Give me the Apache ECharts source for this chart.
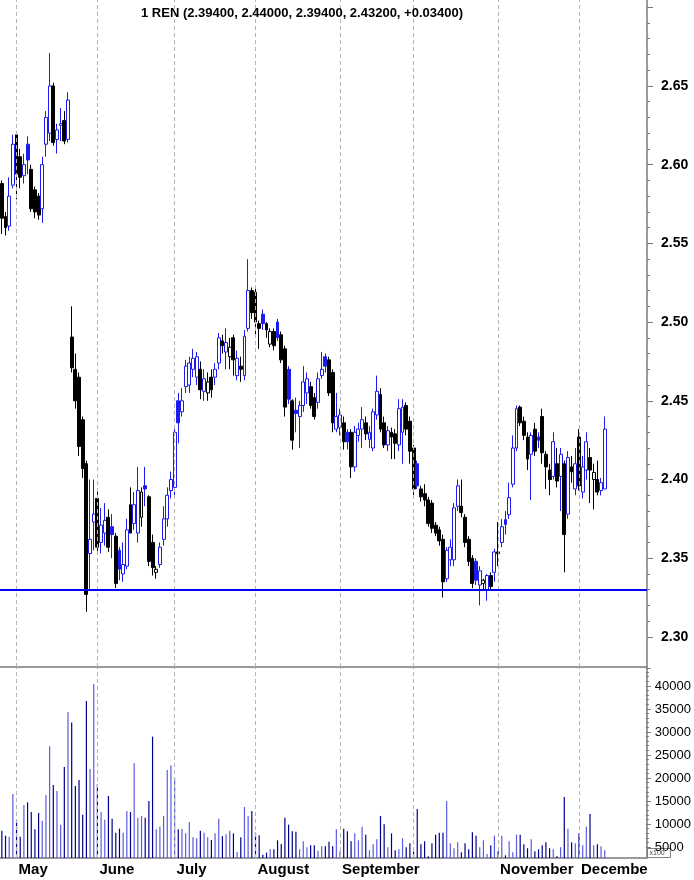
<!DOCTYPE html>
<html><head><meta charset="utf-8">
<script src="https://cdn.jsdelivr.net/npm/echarts@6/dist/echarts.min.js"></script>
<style>html,body{margin:0;padding:0;background:#fff}#c{width:694px;height:880px}</style>
</head><body><div id="c"></div>
<script>
// ---- data (2018 trading days, MM-DD) ----
const dates = ['04-25','04-26','04-27','04-30',
'05-02','05-03','05-04','05-07','05-08','05-09','05-10','05-11','05-14','05-15','05-16','05-17','05-18','05-21','05-22','05-23','05-24','05-25','05-28','05-29','05-30','05-31',
'06-01','06-04','06-05','06-06','06-07','06-08','06-11','06-12','06-13','06-14','06-15','06-18','06-19','06-20','06-21','06-22','06-25','06-26','06-27','06-28','06-29',
'07-02','07-03','07-04','07-05','07-06','07-09','07-10','07-11','07-12','07-13','07-16','07-17','07-18','07-19','07-20','07-23','07-24','07-25','07-26','07-27','07-30','07-31',
'08-01','08-02','08-03','08-06','08-07','08-08','08-09','08-10','08-13','08-14','08-15','08-16','08-17','08-20','08-21','08-22','08-23','08-24','08-27','08-28','08-29','08-30','08-31',
'09-03','09-04','09-05','09-06','09-07','09-10','09-11','09-12','09-13','09-14','09-17','09-18','09-19','09-20','09-21','09-24','09-25','09-26','09-27','09-28',
'10-01','10-02','10-03','10-04','10-05','10-08','10-09','10-10','10-11','10-12','10-15','10-16','10-17','10-18','10-19','10-22','10-23','10-24','10-25','10-26','10-29','10-30','10-31',
'11-01','11-02','11-05','11-06','11-07','11-08','11-09','11-12','11-13','11-14','11-15','11-16','11-19','11-20','11-21','11-22','11-23','11-26','11-27','11-28','11-29','11-30',
'12-03','12-04','12-05','12-06','12-07','12-10','12-11','12-12'];
const futureDates = ['12-13','12-14','12-17','12-18','12-19','12-20','12-21','12-24','12-25','12-26','12-27'];

const opens = [2.588,2.567,2.561,2.587,2.619,2.605,2.593,2.613,2.597,2.584,2.580,2.572,2.613,2.620,2.650,2.616,2.625,2.628,2.616,
2.4905,2.470,2.465,2.438,2.410,2.353,2.373,2.388,2.360,2.366,2.376,2.370,2.364,2.355,2.340,2.345,2.384,2.372,2.366,2.376,2.396,
2.389,2.360,2.341,2.346,2.362,2.375,2.393,2.395,2.450,2.443,2.459,2.460,2.470,2.465,2.470,2.456,2.455,2.465,2.465,2.474,
2.488,2.481,2.478,2.490,2.466,2.472,2.466,2.496,2.520,2.519,2.499,2.505,2.499,2.486,2.494,2.500,2.492,2.483,2.470,2.450,
2.444,2.440,2.447,2.455,2.459,2.452,2.449,2.466,2.478,2.476,2.468,2.432,2.433,2.436,2.430,2.430,2.408,2.428,2.432,2.436,
2.4255,2.420,2.441,2.454,2.436,2.422,2.430,2.429,2.422,2.430,2.447,2.437,2.420,2.410,2.394,2.391,2.387,2.385,2.371,2.368,
2.362,2.337,2.349,2.349,2.383,2.383,2.376,2.362,2.350,2.348,2.333,2.334,2.330,2.339,2.341,2.354,2.360,2.3745,2.3777,2.397,
2.420,2.446,2.437,2.427,2.416,2.432,2.427,2.440,2.416,2.406,2.402,2.410,2.402,2.410,2.378,2.408,2.394,2.427,2.392,2.406,
2.414,2.400,2.400,2.393,2.394];
const highs = [2.590,2.570,2.592,2.619,2.621,2.610,2.607,2.618,2.600,2.586,2.582,2.605,2.634,2.671,2.652,2.626,2.636,2.634,2.646,
2.510,2.480,2.468,2.440,2.412,2.400,2.400,2.394,2.382,2.385,2.381,2.378,2.366,2.357,2.360,2.375,2.395,2.392,2.408,2.395,2.408,
2.390,2.365,2.345,2.360,2.383,2.395,2.405,2.432,2.455,2.458,2.476,2.478,2.483,2.481,2.475,2.470,2.468,2.470,2.474,2.493,
2.492,2.496,2.490,2.492,2.482,2.478,2.495,2.540,2.522,2.521,2.501,2.508,2.500,2.496,2.496,2.502,2.494,2.485,2.472,2.451,
2.452,2.450,2.472,2.468,2.462,2.455,2.468,2.481,2.480,2.478,2.470,2.455,2.445,2.440,2.432,2.432,2.434,2.436,2.446,2.440,
2.434,2.445,2.466,2.458,2.440,2.434,2.433,2.432,2.451,2.451,2.449,2.440,2.422,2.412,2.396,2.397,2.389,2.387,2.373,2.370,
2.365,2.357,2.362,2.385,2.400,2.400,2.378,2.364,2.352,2.350,2.345,2.337,2.340,2.341,2.356,2.373,2.375,2.380,2.398,2.428,
2.447,2.447,2.440,2.430,2.430,2.436,2.430,2.445,2.418,2.410,2.430,2.420,2.420,2.412,2.418,2.415,2.420,2.432,2.415,2.430,
2.420,2.410,2.412,2.401,2.440];
const lows = [2.556,2.555,2.558,2.585,2.578,2.585,2.588,2.594,2.570,2.566,2.565,2.563,2.605,2.615,2.612,2.607,2.615,2.613,2.614,
2.468,2.445,2.415,2.401,2.316,2.330,2.355,2.352,2.353,2.358,2.354,2.350,2.331,2.336,2.335,2.343,2.366,2.368,2.360,2.370,2.383,
2.345,2.339,2.337,2.344,2.358,2.370,2.388,2.390,2.423,2.440,2.455,2.455,2.465,2.460,2.451,2.450,2.450,2.452,2.460,2.470,
2.480,2.470,2.470,2.466,2.463,2.462,2.463,2.494,2.502,2.490,2.483,2.495,2.490,2.484,2.482,2.488,2.474,2.440,2.448,2.419,
2.430,2.420,2.443,2.448,2.445,2.438,2.445,2.464,2.468,2.453,2.430,2.430,2.428,2.419,2.419,2.401,2.405,2.424,2.420,2.425,
2.420,2.418,2.438,2.430,2.420,2.418,2.413,2.413,2.418,2.410,2.428,2.410,2.390,2.394,2.386,2.383,2.370,2.366,2.364,2.358,
2.325,2.335,2.345,2.345,2.380,2.376,2.357,2.345,2.331,2.333,2.320,2.330,2.323,2.330,2.335,2.345,2.357,2.365,2.375,2.395,
2.418,2.434,2.425,2.406,2.387,2.415,2.420,2.410,2.394,2.390,2.400,2.395,2.380,2.341,2.375,2.398,2.390,2.393,2.388,2.400,
2.385,2.381,2.390,2.390,2.394];
const closes = [2.566,2.560,2.580,2.613,2.594,2.592,2.600,2.603,2.572,2.570,2.568,2.600,2.630,2.650,2.614,2.622,2.626,2.615,2.641,
2.471,2.450,2.421,2.407,2.327,2.362,2.378,2.357,2.371,2.374,2.357,2.365,2.334,2.343,2.346,2.368,2.366,2.384,2.393,2.392,2.394,
2.348,2.344,2.343,2.357,2.375,2.390,2.400,2.430,2.436,2.450,2.472,2.474,2.477,2.478,2.457,2.464,2.462,2.457,2.470,2.490,
2.485,2.487,2.484,2.476,2.477,2.470,2.491,2.520,2.506,2.500,2.496,2.499,2.495,2.494,2.485,2.490,2.476,2.446,2.451,2.425,
2.442,2.447,2.462,2.464,2.447,2.440,2.464,2.470,2.472,2.455,2.436,2.440,2.441,2.424,2.424,2.408,2.430,2.432,2.438,2.429,
2.430,2.443,2.456,2.432,2.422,2.431,2.427,2.423,2.445,2.446,2.432,2.418,2.394,2.396,2.389,2.387,2.372,2.369,2.366,2.361,
2.335,2.355,2.357,2.382,2.396,2.379,2.360,2.348,2.334,2.336,2.342,2.336,2.339,2.332,2.354,2.353,2.370,2.3715,2.3885,2.420,
2.445,2.436,2.428,2.413,2.428,2.418,2.425,2.417,2.408,2.400,2.424,2.399,2.416,2.365,2.414,2.405,2.410,2.396,2.408,2.424,
2.406,2.4045,2.392,2.398,2.432];
const volumes = [8540,7460,7240,16520,10720,7240,14130,14710,12610,8850,12390,10720,16300,26890,18480,17170,9850,22390,34350,32030,
18260,19560,12020,36740,21960,40430,18700,12610,10940,16090,11150,8110,8980,8110,12820,12610,23200,11370,11740,11370,
15000,28980,8850,9410,11740,21740,22760,20000,8850,8980,7960,10430,7110,6890,8540,8110,7110,6520,7960,11150,
7330,7780,8540,7960,3910,7110,13700,11740,12820,8110,7530,3330,3770,4500,4500,6450,5650,11370,9850,8400,
8330,4500,6230,4930,5370,5370,4200,5150,5150,6150,5150,8850,4060,8980,8400,6230,7960,6450,9410,7670,
4280,5580,6670,11740,9930,4930,7960,4280,4500,6890,4930,5800,3980,13260,5580,6230,3000,5800,7670,8110,
8110,15000,5800,4720,6020,3840,5800,4500,8180,7460,4930,6450,3480,5370,7460,4060,7460,3190,6230,3840,
7670,7670,5580,4720,6670,4060,4500,5370,6020,4720,4500,3000,4930,15870,8980,6020,5800,7960,5370,9410,
12170,5370,5580,5150,4280];

const monthStarts = ['05-02','06-01','07-02','08-01','09-03','10-01','11-01','12-03'];
const monthLabels = ['May','June','July','August','September','October','November','December'];
const hiddenMonthLabels = ['October'];          // not printed in the original (overlaps September)
const supportLevel = 2.327;
const priceTickLabels = [2.30, 2.35, 2.40, 2.45, 2.50, 2.55, 2.60, 2.65];
const volumeTickLabels = [5000, 10000, 15000, 20000, 25000, 30000, 35000, 40000];
const titleName = '1 REN';

// ---- layout constants ----
const FONT = 'Liberation Sans, Arial, sans-serif';
const BLUE = '#1c1cf0', BLACK = '#000000';
const VOL_UP = '#5c5ce0', VOL_DN = '#00008b';
const AXIS_C = '#7a7a7a';
const RIGHT = 47;
const P_TOP = 0, P_H = 667, P_MIN = 2.2809, P_MAX = 2.7046;
const V_TOP = 668, V_H = 190, V_MIN = 2600, V_MAX = 43900;
const pScale = P_H / (P_MAX - P_MIN);
const vScale = V_H / (V_MAX - V_MIN);
const pLabMin = priceTickLabels[0], pLabMax = 2.70;
const vLabMin = volumeTickLabels[0];

const allDates = dates.concat(futureDates);
const n = dates.length;
const candleData = [], volData = [];
for (let i = 0; i < n; i++) {
  const prev = i > 0 ? closes[i - 1] : opens[i];
  const up = closes[i] >= prev;
  const col = up ? BLUE : BLACK;
  const fill = closes[i] > opens[i] ? '#ffffff' : col;
  candleData.push({
    value: [opens[i], closes[i], lows[i], highs[i]],
    itemStyle: { color: fill, color0: fill, borderColor: col, borderColor0: col, borderColorDoji: col, borderWidth: 1 }
  });
  volData.push({ value: volumes[i], itemStyle: { color: closes[i] >= opens[i] ? VOL_UP : VOL_DN } });
}
const last = n - 1;
const chg = closes[last] - closes[last - 1];
const titleText = titleName + ' (' + [opens[last], highs[last], lows[last], closes[last]].map(v => v.toFixed(5)).join(', ') +
  ', ' + (chg >= 0 ? '+' : '') + chg.toFixed(5) + ')';

function isMonday(d) {
  const m = parseInt(d.slice(0, 2), 10), day = parseInt(d.slice(3), 10);
  return new Date(2018, m - 1, day).getDay() === 1;
}
const monthLine = monthStarts.map(d => ({ xAxis: d }));
const dashed = { type: [4, 3], color: '#b4b4b4', width: 1 };
const labelStyle = { fontFamily: FONT, fontSize: 15, fontWeight: 'bold', color: '#000' };

const option = {
  animation: false,
  backgroundColor: '#ffffff',
  title: {
    text: titleText, left: 297, top: 2, textAlign: 'center',
    textStyle: { fontFamily: FONT, fontSize: 13, fontWeight: 'bold', color: '#000' }
  },
  grid: [
    { left: 0, right: RIGHT, top: P_TOP, height: P_H },
    { left: 0, right: RIGHT, top: V_TOP, height: V_H },
    { left: 0, right: RIGHT, top: P_TOP + (P_MAX - pLabMax) * pScale, height: (pLabMax - pLabMin) * pScale },
    { left: 0, right: RIGHT, top: V_TOP, height: (V_MAX - vLabMin) * vScale }
  ],
  xAxis: [
    { type: 'category', gridIndex: 0, data: allDates, boundaryGap: true,
      axisLine: { lineStyle: { color: AXIS_C, width: 1.5 } }, axisTick: { show: false }, axisLabel: { show: false } },
    { type: 'category', gridIndex: 1, data: allDates, boundaryGap: true, position: 'bottom',
      axisLine: { lineStyle: { color: AXIS_C, width: 1.5 } },
      axisTick: { alignWithLabel: true, length: 5, interval: (i, v) => isMonday(v), lineStyle: { color: '#333' } },
      axisLabel: Object.assign({
        interval: (i, v) => { const k = monthStarts.indexOf(v); return k >= 0 && k < monthStarts.length - 1 && hiddenMonthLabels.indexOf(monthLabels[k]) < 0; },
        formatter: v => { const k = monthStarts.indexOf(v); return k >= 0 ? monthLabels[k] : ''; },
        align: 'left', padding: [0, 0, 0, 2], margin: 4
      }, labelStyle) },
    { type: 'category', gridIndex: 1, data: allDates, boundaryGap: true, position: 'bottom',
      axisLine: { show: false },
      axisTick: { alignWithLabel: true, length: 22, interval: (i, v) => monthStarts.indexOf(v) >= 0, lineStyle: { color: '#222' } },
      axisLabel: Object.assign({
        interval: (i, v) => v === monthStarts[monthStarts.length - 1],
        formatter: v => { const k = monthStarts.indexOf(v); return k >= 0 ? monthLabels[k] : ''; },
        align: 'left', padding: [0, 0, 0, 2], margin: 4, width: 70, overflow: 'truncate', ellipsis: ''
      }, labelStyle) },
    { type: 'category', gridIndex: 2, show: false, data: [''] },
    { type: 'category', gridIndex: 3, show: false, data: [''] }
  ],
  yAxis: [
    { type: 'value', gridIndex: 0, position: 'right', min: P_MIN, max: P_MAX, scale: true,
      axisLine: { show: true, onZero: false, lineStyle: { color: AXIS_C, width: 1.5 } }, axisTick: { show: false }, axisLabel: { show: false }, splitLine: { show: false } },
    { type: 'value', gridIndex: 1, position: 'right', min: V_MIN, max: V_MAX, scale: true,
      axisLine: { show: true, onZero: false, lineStyle: { color: AXIS_C, width: 1.5 } }, axisTick: { show: false }, axisLabel: { show: false }, splitLine: { show: false } },
    { type: 'value', gridIndex: 2, position: 'right', min: pLabMin, max: pLabMax, interval: 0.05,
      axisLine: { show: false, onZero: false },
      axisTick: { show: true, length: 6, lineStyle: { color: AXIS_C } },
      minorTick: { show: true, splitNumber: 5, length: 3, lineStyle: { color: AXIS_C } },
      splitLine: { show: false }, minorSplitLine: { show: false },
      axisLabel: { showMaxLabel: false, margin: 14, fontFamily: FONT, fontSize: 14, fontWeight: 'bold', color: '#000',
        formatter: v => priceTickLabels.some(t => Math.abs(t - v) < 1e-6) ? v.toFixed(2) : '' } },
    { type: 'value', gridIndex: 3, position: 'right', min: vLabMin, max: V_MAX, interval: 5000,
      axisLine: { show: false, onZero: false },
      axisTick: { show: true, length: 5, lineStyle: { color: AXIS_C } },
      minorTick: { show: true, splitNumber: 5, length: 3, lineStyle: { color: AXIS_C } },
      splitLine: { show: false }, minorSplitLine: { show: false },
      axisLabel: { margin: 9, fontFamily: FONT, fontSize: 13, color: '#000',
        formatter: v => volumeTickLabels.indexOf(Math.round(v)) >= 0 ? String(Math.round(v)) : '' } }
  ],
  series: [
    { type: 'candlestick', xAxisIndex: 0, yAxisIndex: 0, data: candleData, barWidth: 3.4, clip: true,
      markLine: { silent: true, symbol: 'none', label: { show: false }, animation: false,
        lineStyle: dashed,
        data: monthLine.concat([{ yAxis: supportLevel, lineStyle: { type: 'solid', color: '#0000ff', width: 2 } }]) } },
    { type: 'bar', xAxisIndex: 1, yAxisIndex: 1, data: volData, barWidth: 1.2,
      markLine: { silent: true, symbol: 'none', label: { show: false }, animation: false, lineStyle: dashed, data: monthLine } }
  ],
  graphic: [
    { type: 'group', left: 647, top: 848, z: 100, children: [
      { type: 'rect', shape: { x: 0, y: 0, width: 23, height: 9 }, style: { fill: '#fff', stroke: '#808080', lineWidth: 1 } },
      { type: 'text', style: { x: 2, y: 1, text: 'x100', font: '7px ' + FONT, fill: '#444' } }
    ] }
  ]
};
const chart = echarts.init(document.getElementById('c'), null, { renderer: 'canvas' });
chart.setOption(option);
</script></body></html>
